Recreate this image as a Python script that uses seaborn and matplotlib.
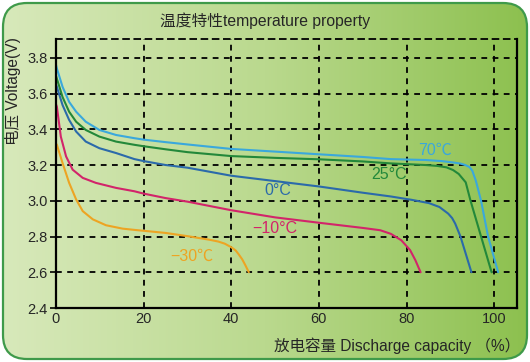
import numpy as np
import pandas as pd
import matplotlib
matplotlib.use("Agg")
import matplotlib.pyplot as plt
from matplotlib.patches import FancyBboxPatch
from matplotlib.colors import LinearSegmentedColormap
import seaborn as sns

# ---- data ----
t70_x = [0, 0.2, 1.5, 3.0, 4.6, 6.8, 9.9, 13.7, 17.9, 20, 25, 30, 40, 50, 60, 70, 76.4, 84.3,
         88, 90.7, 92.3, 93.4, 94.4, 95.0, 95.8, 97.0, 98.6, 100.9]
t70_y = [3.76, 3.74, 3.637, 3.553, 3.498, 3.442, 3.396, 3.368, 3.35, 3.342, 3.328, 3.315, 3.29,
         3.275, 3.26, 3.245, 3.233, 3.228, 3.222, 3.214, 3.208, 3.2, 3.188, 3.168, 3.113, 3.0, 2.8, 2.6]

t25_x = [0, 0.2, 1.5, 3.0, 4.6, 6.8, 9.9, 13.7, 17.9, 20, 25, 30, 40, 50, 60, 70, 76.4, 84.3,
         87, 89.1, 90.6, 91.9, 93.5, 94.6, 97.0, 99.4]
t25_y = [3.70, 3.683, 3.58, 3.498, 3.442, 3.396, 3.359, 3.331, 3.313, 3.305, 3.288, 3.272, 3.25,
         3.24, 3.232, 3.22, 3.209, 3.2, 3.195, 3.187, 3.172, 3.15, 3.103, 3.0, 2.8, 2.6]

t0_x = [0, 0.2, 1.5, 3.0, 4.6, 6.8, 9.9, 13.7, 17.9, 20, 25, 30, 40, 50, 60, 70, 76.4, 81.2,
        85.1, 87.5, 89.5, 90.4, 91.1, 92.3, 94.8]
t0_y = [3.65, 3.637, 3.535, 3.452, 3.387, 3.331, 3.294, 3.267, 3.233, 3.222, 3.2, 3.185, 3.14,
        3.11, 3.08, 3.045, 3.024, 3.005, 2.987, 2.965, 2.928, 2.903, 2.872, 2.8, 2.6]

tm10_x = [0, 0.2, 1.1, 2.3, 3.8, 6.1, 9.1, 13.7, 17.9, 20, 25, 30, 40, 50, 60, 70, 74, 76.4,
          78.8, 80.8, 82.0, 83.2]
tm10_y = [3.54, 3.526, 3.359, 3.248, 3.174, 3.128, 3.1, 3.072, 3.053, 3.04, 3.015, 2.995, 2.947,
          2.907, 2.877, 2.848, 2.835, 2.815, 2.779, 2.724, 2.668, 2.6]

tm30_x = [0, 0.2, 1.5, 3.0, 4.6, 6.1, 8.4, 11.4, 15.2, 17.9, 20, 25, 30, 35, 37, 38.5, 40, 41.0,
          41.7, 42.5, 43.2, 44]
tm30_y = [3.32, 3.313, 3.211, 3.1, 3.007, 2.942, 2.896, 2.863, 2.844, 2.837, 2.832, 2.82, 2.802,
          2.782, 2.772, 2.76, 2.74, 2.722, 2.70, 2.672, 2.64, 2.6]

series_names = ["70℃", "25°C", "0°C", "−10°C", "−30℃"]
series_x = [t70_x, t25_x, t0_x, tm10_x, tm30_x]
series_y = [t70_y, t25_y, t0_y, tm10_y, tm30_y]
colors = ["#3aa8dc", "#23883a", "#2b6aaa", "#d2246a", "#eda423"]

x_ticks = [0, 20, 40, 60, 80, 100]
y_ticks = [2.4, 2.6, 2.8, 3.0, 3.2, 3.4, 3.6, 3.8]

rows = []
for name, xs, ys in zip(series_names, series_x, series_y):
    for i, (a, b) in enumerate(zip(xs, ys)):
        rows.append({"series": name, "cap": a, "volt": b, "order": i})
df = pd.DataFrame(rows)

sns.set_theme(style="white")
latin_cjk = ["Liberation Sans", "Noto Sans CJK SC", "DejaVu Sans"]
plt.rcParams["font.family"] = latin_cjk

W, H = 530, 362
fig = plt.figure(figsize=(W / 100, H / 100), dpi=100)
fig.patch.set_facecolor("white")

# gradient background in rounded frame
bg = fig.add_axes([0, 0, 1, 1], zorder=-10)
bg.set_xlim(0, W)
bg.set_ylim(0, H)
bg.axis("off")
grad = np.linspace(0, 1, 256)[None, :]
cmap = LinearSegmentedColormap.from_list("g", ["#d8e9bb", "#bad98e", "#8cc04e"])
im = bg.imshow(grad, extent=[0, W, 0, H], aspect="auto", cmap=cmap, origin="lower")
frame = FancyBboxPatch((3, 3), W - 6, H - 6, boxstyle="round,pad=0,rounding_size=24",
                       facecolor="none", edgecolor="#3f9a4a", linewidth=1.6)
bg.add_patch(frame)
im.set_clip_path(frame)

ax = fig.add_axes([56 / W, 1 - 308 / H, (517 - 56) / W, (308 - 39) / H])
ax.set_facecolor("none")

palette = dict(zip(series_names, colors))
for name in series_names:
    sub = df[df["series"] == name]
    sns.lineplot(data=sub, x="cap", y="volt", color=palette[name], sort=False,
                 estimator=None, linewidth=1.5, ax=ax, legend=False)

ax.set_xlim(0, 105.2)
ax.set_ylim(2.4, 3.905)
ax.set_xticks(x_ticks)
ax.set_yticks(y_ticks)
ax.set_xticklabels([str(v) for v in x_ticks], fontsize=10.5)
ax.set_yticklabels([f"{v:.1f}" for v in y_ticks], fontsize=10.5)
ax.set_xlabel("")
ax.set_ylabel("")
ax.grid(True, color="black", linestyle=(0, (3.2, 3)), linewidth=1.3)
ax.tick_params(axis="y", length=4, width=1.2, color="black", pad=2, direction="out", left=True)
ax.tick_params(axis="x", length=0, pad=3)
for s in ["left", "bottom", "right"]:
    ax.spines[s].set_color("black")
    ax.spines[s].set_linewidth(1.6)
ax.spines["top"].set_color("black")
ax.spines["top"].set_linewidth(1.3)
ax.spines["top"].set_linestyle((0, (3.2, 3)))

# curve labels
lab_pos = [(82.6, 3.285, "70℃"), (72.0, 3.145, "25°C"), (47.5, 3.06, "0°C"),
           (44.8, 2.845, "−10°C"), (26.0, 2.687, "−30℃")]
for (lx, ly, t), c in zip(lab_pos, colors):
    ax.text(lx, ly, t, color=c, fontsize=11.5, ha="left", va="center", family=latin_cjk)

fig.text(0.5, 1 - 21 / H, "温度特性temperature property", ha="center", va="center",
         fontsize=11.3, family=latin_cjk)
fig.text(520 / W, 1 - 346 / H, "放电容量 Discharge capacity （%）", ha="right", va="center",
         fontsize=11.2, family=latin_cjk)
fig.text(13 / W, 1 - 91 / H, "电压 Voltage(V)", ha="center", va="center", rotation=90,
         fontsize=11.2, family=latin_cjk)

fig.savefig("out.png", dpi=100)
